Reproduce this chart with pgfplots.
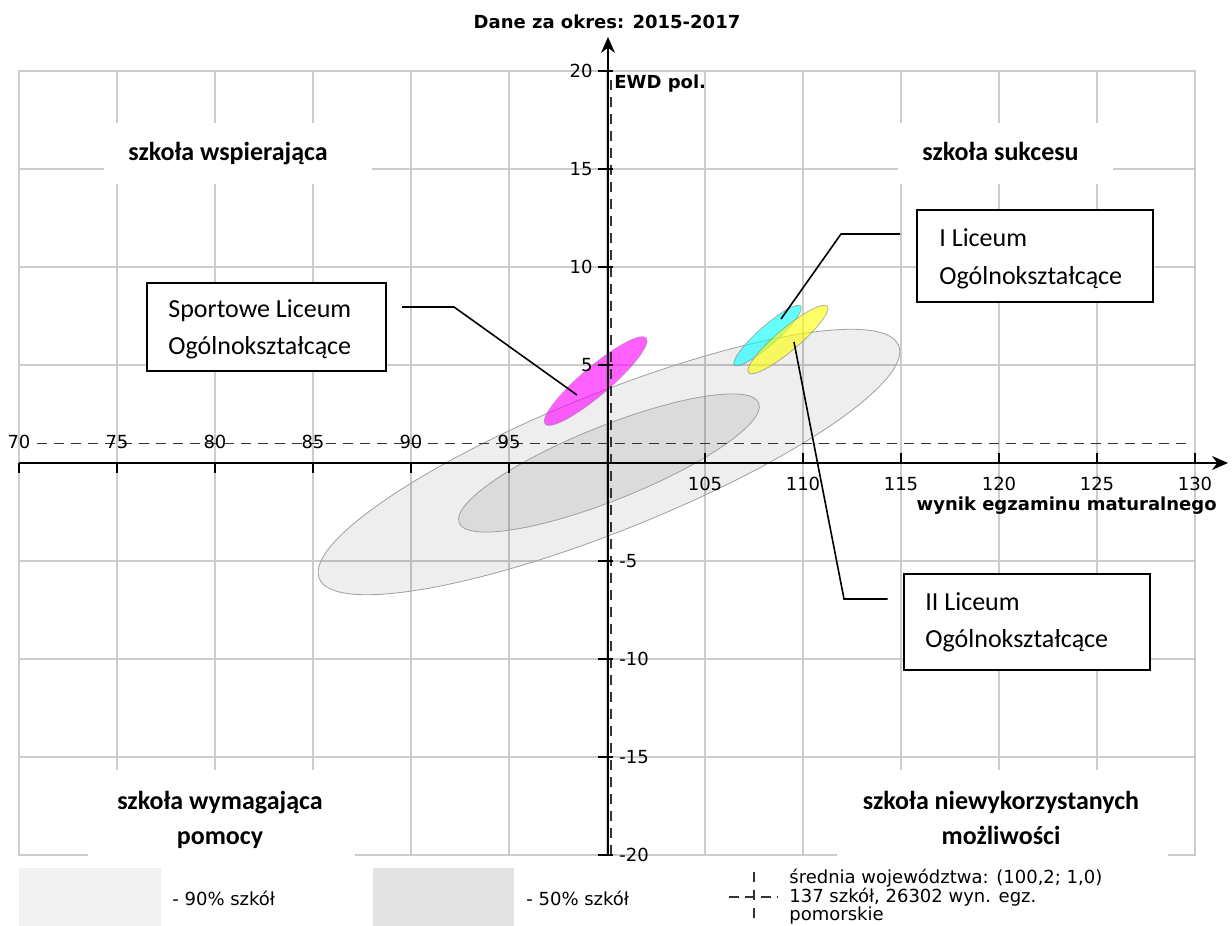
\documentclass[border=0pt]{standalone}
\usepackage{fontspec}
\setmainfont{Carlito}
\newfontfamily\dejavu{DejaVu Sans}
\usepackage{pgfplots}
\pgfplotsset{compat=1.18}
\usetikzlibrary{arrows.meta}

\definecolor{gridgray}{HTML}{CCCCCC}
\definecolor{leg90}{HTML}{F2F2F2}
\definecolor{leg50}{HTML}{E3E3E3}
\definecolor{avgline}{HTML}{333333}
\definecolor{szMag}{RGB}{255,0,255}
\definecolor{szCyan}{RGB}{0,255,255}
\definecolor{szYel}{RGB}{255,255,0}

\newcommand{\tickfont}{\fontsize{9}{11}\selectfont\dejavu}
\newcommand{\quadfont}{\fontsize{13}{17.5}\selectfont\bfseries}
\newcommand{\boxfont}{\fontsize{13}{19}\selectfont}

\begin{document}
\begin{tikzpicture}
\useasboundingbox (0,0) rectangle (616pt,463pt);
\begin{axis}[
    at={(9.5pt,35.5pt)}, anchor=south west,
    x=9.8pt, y=9.8pt,
    xmin=70, xmax=130, ymin=-20, ymax=20,
    xtick={70,75,...,130}, ytick={-20,-15,...,20},
    xticklabels={}, yticklabels={},
    tick label style={opacity=0},
    major tick length=0pt,
    grid=major,
    grid style={gridgray, line width=0.75pt},
    axis line style={gridgray, line width=0.75pt},
    clip=false, no marks,
]
    % 90% i 50% szkół
    \filldraw[fill=black, fill opacity=0.065, draw=gray!75, line width=0.4pt,
        rotate around={21.9:(axis cs:100.1,0.05)}]
        (axis cs:100.1,0.05) ellipse [x radius=15.93, y radius=3.5];
    \filldraw[fill=black, fill opacity=0.08, draw=gray!75, line width=0.4pt,
        rotate around={21.8:(axis cs:100.1,0.0)}]
        (axis cs:100.1,0.0) ellipse [x radius=8.23, y radius=1.89];
    % szkoły
    \filldraw[fill=szMag, fill opacity=0.62, draw=gray, draw opacity=0.4, line width=0.4pt,
        rotate around={40.4:(axis cs:99.42,4.18)}]
        (axis cs:99.42,4.18) ellipse [x radius=3.39, y radius=0.73];
    \filldraw[fill=szCyan, fill opacity=0.6, draw=gray, draw opacity=0.6, line width=0.4pt,
        rotate around={41.6:(axis cs:108.19,6.50)}]
        (axis cs:108.19,6.50) ellipse [x radius=2.27, y radius=0.48];
    \filldraw[fill=szYel, fill opacity=0.6, draw=gray, draw opacity=0.6, line width=0.4pt,
        rotate around={40.1:(axis cs:109.23,6.30)}]
        (axis cs:109.23,6.30) ellipse [x radius=2.63, y radius=0.57];
    % średnia województwa (100,2; 1,0)
    \addplot[avgline, line width=0.7pt, dash pattern=on 5pt off 3.5pt]
        coordinates {(70.9,1.0) (129.7,1.0)};
    \addplot[avgline, line width=0.7pt, dash pattern=on 5pt off 3.5pt]
        coordinates {(100.2,-20) (100.2,19.6)};
\end{axis}

\begin{scope}[x=1pt, y=1pt]
    % pola opisów ćwiartek
    \fill[white] (52,371) rectangle (186,401.5);
    \fill[white] (449,371) rectangle (556.5,401.5);
    \fill[white] (44,33) rectangle (177.5,78);
    \fill[white] (418.5,33) rectangle (584,78);
    \node[font=\quadfont, anchor=base] at (114,382.5) {szkoła wspierająca};
    \node[font=\quadfont, anchor=base] at (500.25,382.5) {szkoła sukcesu};
    \node[font=\quadfont, anchor=base] at (110,58) {szkoła wymagająca};
    \node[font=\quadfont, anchor=base] at (110,40.5) {pomocy};
    \node[font=\quadfont, anchor=base] at (500.5,58) {szkoła niewykorzystanych};
    \node[font=\quadfont, anchor=base] at (500.5,40.5) {możliwości};

    % osie
    \draw[line width=0.7pt, -{Stealth[length=8pt, width=7pt]}] (9.5,231.5) -- (614,231.5);
    \draw[line width=0.7pt, -{Stealth[length=8pt, width=7pt]}] (304,35.5) -- (304,444.5);
    \foreach \v in {70,75,...,95} {
        \draw[line width=0.6pt] ({9.5+9.8*(\v-70)},231.5) -- ++(0,-5);
        \node[font=\tickfont, inner sep=0] at ({9.5+9.8*(\v-70)},242) {\v};
    }
    \foreach \v in {105,110,...,130} {
        \draw[line width=0.6pt] ({9.5+9.8*(\v-70)},231.5) -- ++(0,5);
        \node[font=\tickfont, inner sep=0] at ({9.5+9.8*(\v-70)},221) {\v};
    }
    \foreach \v in {5,10,15,20} {
        \draw[line width=0.6pt] (299,{231.5+9.8*\v}) -- ++(7.5,0);
        \node[font=\tickfont, inner sep=0, anchor=east] at (296.5,{231.5+9.8*\v}) {\v};
    }
    \foreach \v in {-5,-10,-15,-20} {
        \draw[line width=0.6pt] (299,{231.5+9.8*\v}) -- ++(7.5,0);
        \node[font=\tickfont, inner sep=0, anchor=west] at (309.5,{231.5+9.8*\v}) {\v};
    }
    \node[font=\tickfont\bfseries, anchor=base] at (303.5,448.5) {Dane za okres: 2015-2017};
    \node[font=\tickfont\bfseries, anchor=base west, inner sep=0] at (307,418.5) {EWD pol.};
    \node[font=\tickfont\bfseries, anchor=base east, inner sep=0] at (608.5,207.5) {wynik egzaminu maturalnego};

    % opisy szkół
    \draw[line width=0.8pt, fill=white] (73.5,277.5) rectangle (193,321.5);
    \node[font=\boxfont, anchor=base west, inner sep=0] at (84,304) {Sportowe Liceum};
    \node[font=\boxfont, anchor=base west, inner sep=0] at (84,285.5) {Ogólnokształcące};
    \draw[line width=0.8pt] (201,309.5) -- (227,309.5) -- (288.5,265.5);

    \draw[line width=0.8pt, fill=white] (458.5,312) rectangle (576.5,358);
    \node[font=\boxfont, anchor=base west, inner sep=0] at (469.5,339.5) {I Liceum};
    \node[font=\boxfont, anchor=base west, inner sep=0] at (469.5,320.5) {Ogólnokształcące};
    \draw[line width=0.8pt] (450,346) -- (420.5,346) -- (390.5,303.5);

    \draw[line width=0.8pt, fill=white] (452,128) rectangle (575,176);
    \node[font=\boxfont, anchor=base west, inner sep=0] at (462.5,157.5) {II Liceum};
    \node[font=\boxfont, anchor=base west, inner sep=0] at (462.5,139) {Ogólnokształcące};
    \draw[line width=0.8pt] (443.75,163.5) -- (422,163.5) -- (397,292);

    % legenda
    \fill[leg90] (9.5,0) rectangle (80.5,29);
    \node[font=\tickfont, anchor=west, inner sep=0] at (86,14) {- 90\% szkół};
    \fill[leg50] (186.5,0) rectangle (257,29);
    \node[font=\tickfont, anchor=west, inner sep=0] at (263,14) {- 50\% szkół};
    \draw[avgline, line width=0.6pt, dash pattern=on 5pt off 3pt] (364.5,14.5) -- (389,14.5);
    \draw[avgline, line width=0.6pt, dash pattern=on 5pt off 4pt] (377,27) -- (377,2);
    \node[font=\tickfont, anchor=base west, inner sep=0] at (394.5,21) {średnia województwa: (100,2; 1,0)};
    \node[font=\tickfont, anchor=base west, inner sep=0] at (394.5,11.5) {137 szkół, 26302 wyn. egz.};
    \node[font=\tickfont, anchor=base west, inner sep=0] at (394.5,2.5) {pomorskie};
\end{scope}
\end{tikzpicture}
\end{document}
